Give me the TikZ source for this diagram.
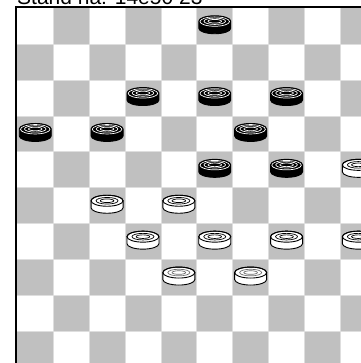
\documentclass[tikz,border=0pt]{standalone}
\usepackage{fontspec}
\setmainfont{Liberation Sans}
\definecolor{sqgray}{RGB}{192,192,192}
\definecolor{gridc}{RGB}{222,222,222}
\definecolor{ringgray}{RGB}{110,110,110}
\tikzset{
  disc/.style={line width=0.9pt},
  pics/blackpiece/.style={code={
    \fill[black] (-16,-5) -- (-16,2) arc[start angle=180,end angle=0,x radius=16,y radius=5.5]
      -- (16,-5) arc[start angle=0,end angle=-180,x radius=16,y radius=5.5] -- cycle;
    \draw[white,line width=0.7pt] (0,-4.7) ellipse[x radius=14.8,y radius=4.7];
    \draw[white,line width=0.7pt] (0,-5) ellipse[x radius=10.8,y radius=3.2];
    \draw[white,line width=0.7pt] (0,-5) ellipse[x radius=6.8,y radius=1.8];
    \draw[black,disc] (-16,-5) -- (-16,2) arc[start angle=180,end angle=0,x radius=16,y radius=5.5]
      -- (16,-5) arc[start angle=0,end angle=-180,x radius=16,y radius=5.5] -- cycle;
  }},
  pics/whitepiece/.style={code={
    \filldraw[fill=white,draw=black,disc] (-16,-5) -- (-16,2) arc[start angle=180,end angle=0,x radius=16,y radius=5.5]
      -- (16,-5) arc[start angle=0,end angle=-180,x radius=16,y radius=5.5] -- cycle;
    \draw[black,disc] (0,-5) ellipse[x radius=16,y radius=5.5];
    \draw[#1,line width=0.7pt] (0,-5) ellipse[x radius=11,y radius=3.3];
    \draw[#1,line width=0.7pt] (0,-5) ellipse[x radius=6.8,y radius=1.8];
  }},
  pics/whitepiece/.default=black
}
\begin{document}
\begin{tikzpicture}[x=1pt,y=-1pt]
\useasboundingbox (0,0) rectangle (360,363);
\fill[white] (0,0) rectangle (360,363);
\def\sq{35.9}
\def\bx{17.3}
\def\by{8.3}
\foreach \r in {0,...,9}{
  \foreach \c in {0,...,9}{
    \pgfmathtruncatemacro{\pty}{mod(\r+\c,2)}
    \ifnum\pty=1
      \fill[sqgray] ({\bx+\c*\sq},{\by+\r*\sq}) rectangle ++(\sq,\sq);
    \fi
  }
}
\foreach \i in {1,...,9}{
  \draw[gridc,line width=0.8pt] ({\bx+\i*\sq},\by) -- ++(0,360);
  \draw[gridc,line width=0.8pt] (\bx,{\by+\i*\sq}) -- ++(360,0);
}
\draw[black,line width=2pt] (16.3,380) -- (16.3,7.3) -- (380,7.3);
\node[anchor=base west,inner sep=0pt,font=\fontsize{21}{24}\selectfont] (title) at (17,4.5) {Stand na: 14e50 23};
% black pieces
\foreach \r/\c in {0/5,2/3,2/5,2/7,3/0,3/2,3/6,4/5,4/7}{
  \pic at ({\bx+(\c+0.5)*\sq},{\by+(\r+0.5)*\sq}) {blackpiece};
}
% white pieces
\foreach \r/\c in {4/9,5/2,5/4,6/3,6/5,6/7,6/9}{
  \pic at ({\bx+(\c+0.5)*\sq},{\by+(\r+0.5)*\sq}) {whitepiece};
}
\foreach \r/\c in {7/4,7/6}{
  \pic at ({\bx+(\c+0.5)*\sq},{\by+(\r+0.5)*\sq}) {whitepiece=ringgray};
}
\end{tikzpicture}
\end{document}
